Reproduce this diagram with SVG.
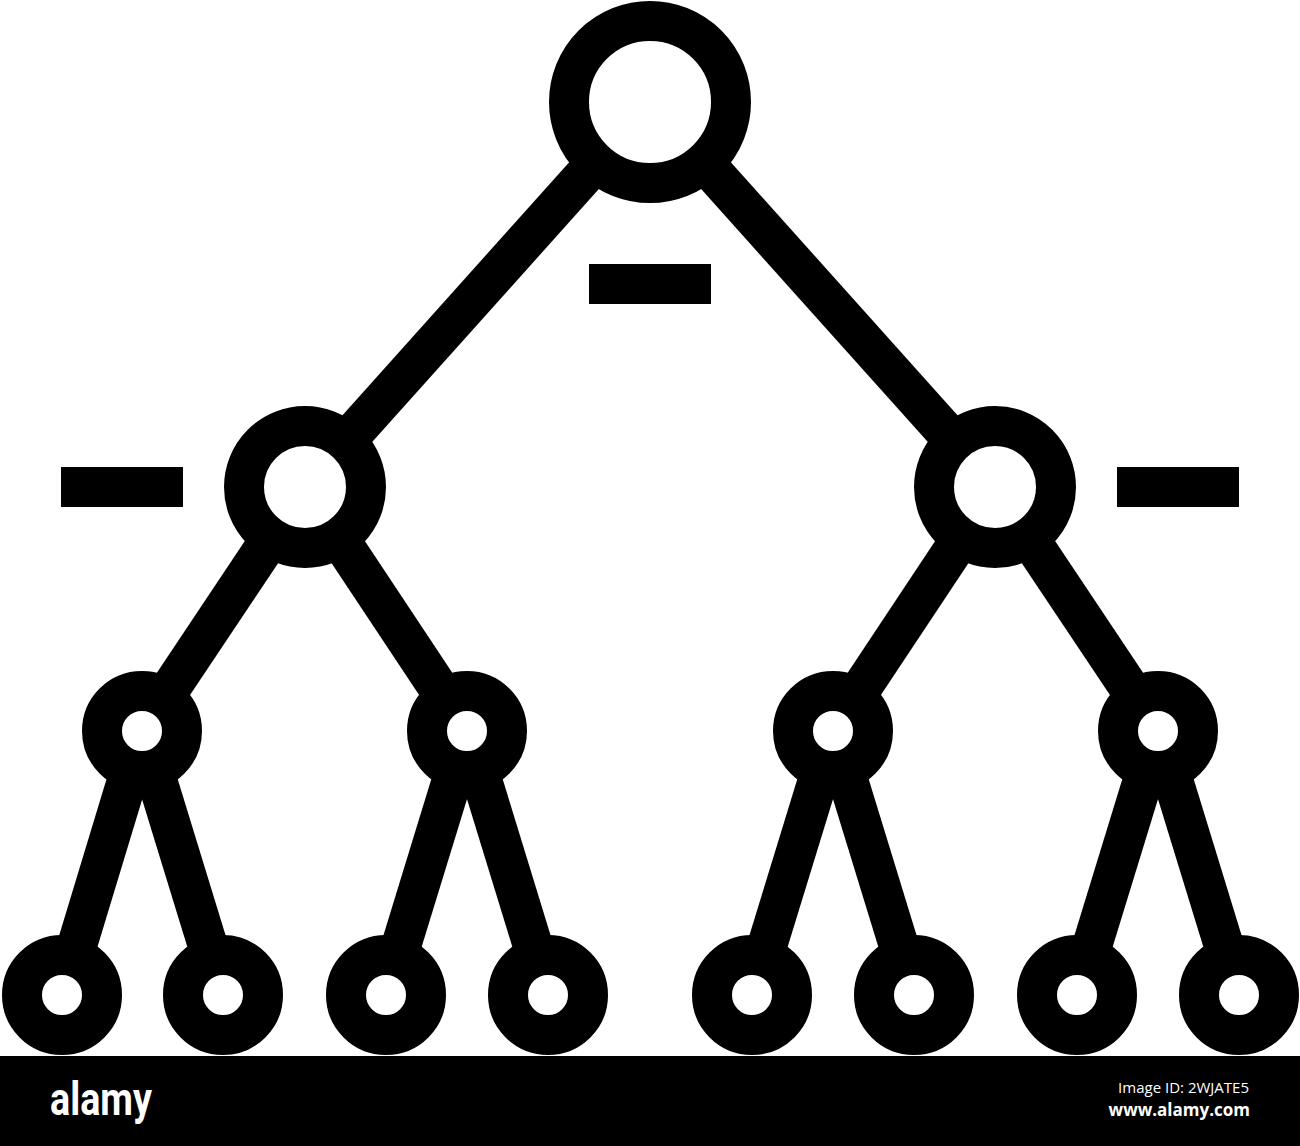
<svg xmlns="http://www.w3.org/2000/svg" width="1300" height="1146" viewBox="0 0 1300 1146">
<style>
.edge{stroke:#000;stroke-width:40;fill:none}
.node{fill:#fff;stroke:#000;stroke-width:40}
.bar{fill:#000}
</style>
<rect width="1300" height="1146" fill="#fff"/>
<g id="connectors">
<line class="edge" x1="650" y1="102" x2="305" y2="487"/>
<line class="edge" x1="650" y1="102" x2="995" y2="487"/>
<line class="edge" x1="305" y1="487" x2="142" y2="731"/>
<line class="edge" x1="305" y1="487" x2="467" y2="731"/>
<line class="edge" x1="995" y1="487" x2="833" y2="731"/>
<line class="edge" x1="995" y1="487" x2="1158" y2="731"/>
<line class="edge" x1="142" y1="731" x2="62" y2="995"/>
<line class="edge" x1="142" y1="731" x2="223" y2="995"/>
<line class="edge" x1="467" y1="731" x2="386" y2="995"/>
<line class="edge" x1="467" y1="731" x2="548" y2="995"/>
<line class="edge" x1="833" y1="731" x2="752" y2="995"/>
<line class="edge" x1="833" y1="731" x2="914" y2="995"/>
<line class="edge" x1="1158" y1="731" x2="1077" y2="995"/>
<line class="edge" x1="1158" y1="731" x2="1239" y2="995"/>
</g>
<g id="root"><circle class="node" cx="650" cy="102" r="81"/></g>
<g id="n-left"><circle class="node" cx="305" cy="487" r="61"/></g>
<g id="n-right"><circle class="node" cx="995" cy="487" r="61"/></g>
<g id="n-ll"><circle class="node" cx="142" cy="731" r="40"/></g>
<g id="n-lr"><circle class="node" cx="467" cy="731" r="40"/></g>
<g id="n-rl"><circle class="node" cx="833" cy="731" r="40"/></g>
<g id="n-rr"><circle class="node" cx="1158" cy="731" r="40"/></g>
<g id="leaf1"><circle class="node" cx="62" cy="995" r="40"/></g>
<g id="leaf2"><circle class="node" cx="223" cy="995" r="40"/></g>
<g id="leaf3"><circle class="node" cx="386" cy="995" r="40"/></g>
<g id="leaf4"><circle class="node" cx="548" cy="995" r="40"/></g>
<g id="leaf5"><circle class="node" cx="752" cy="995" r="40"/></g>
<g id="leaf6"><circle class="node" cx="914" cy="995" r="40"/></g>
<g id="leaf7"><circle class="node" cx="1077" cy="995" r="40"/></g>
<g id="leaf8"><circle class="node" cx="1239" cy="995" r="40"/></g>
<g id="dashes">
<rect class="bar" x="589" y="264" width="122" height="40"/>
<rect class="bar" x="61" y="467" width="122" height="40"/>
<rect class="bar" x="1117" y="467" width="122" height="40"/>
</g>
<g id="footer">
<rect x="0" y="1056" width="1300" height="90" fill="#000"/>
<text x="50" y="1115" font-family="Roboto, 'Liberation Sans', sans-serif" font-weight="bold" font-size="46" fill="#fff" textLength="102" lengthAdjust="spacingAndGlyphs">alamy</text>
<text x="1249" y="1093" text-anchor="end" font-family="'Open Sans', 'Noto Sans', sans-serif" font-size="15" fill="#fff">Image ID: 2WJATE5</text>
<text x="1250" y="1116" text-anchor="end" font-family="'Open Sans', 'Noto Sans', sans-serif" font-weight="bold" font-size="17" fill="#fff">www.alamy.com</text>
</g>
</svg>
